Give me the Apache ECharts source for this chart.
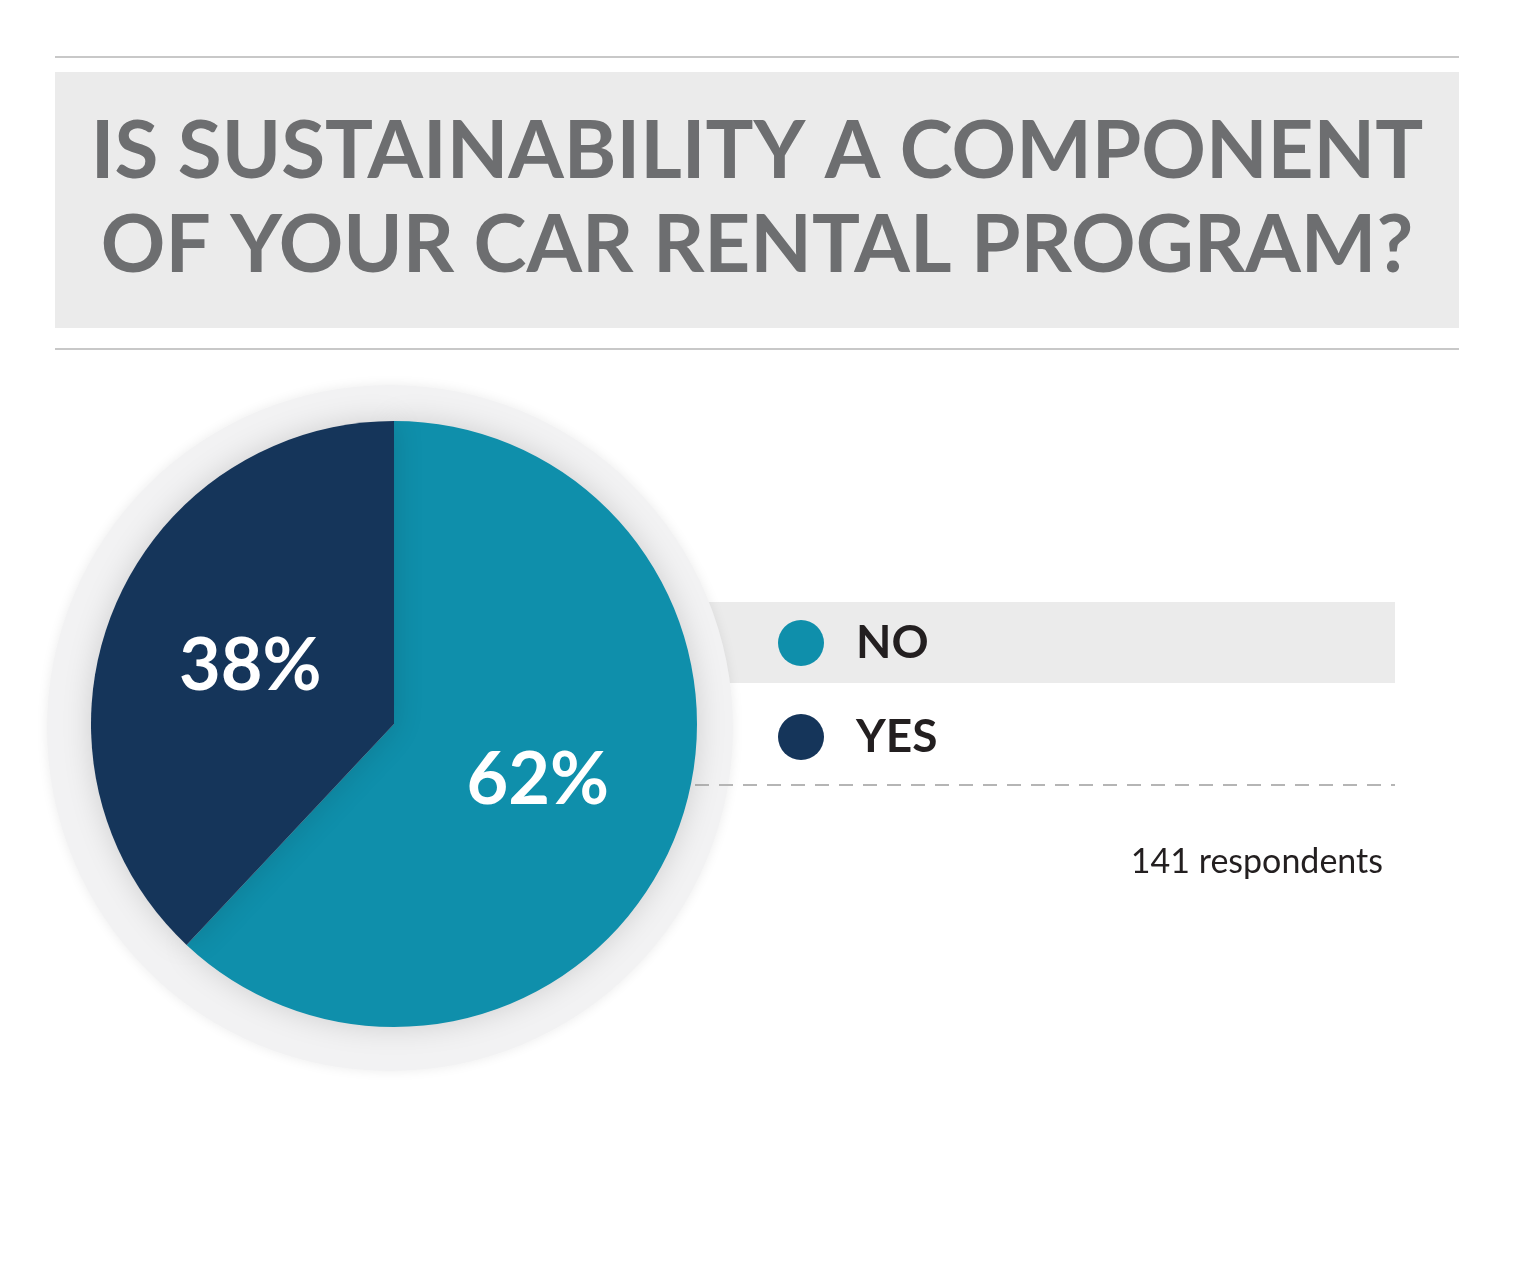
<!DOCTYPE html>
<html>
<head>
<meta charset="utf-8">
<script src="https://cdn.jsdelivr.net/npm/echarts@6/dist/echarts.min.js"></script>
<style>html,body{margin:0;padding:0;background:#fff}</style>
</head>
<body>
<div id="chart" style="width:1521px;height:1275px"></div>
<script>
// 数据
var categories = ['NO', 'YES'];
var values = [62, 38];
var colors = ['#0f8fab', '#15355a'];
var titleLines = ['IS SUSTAINABILITY A COMPONENT', 'OF YOUR CAR RENTAL PROGRAM?'];
var note = '141 respondents';

var chart = echarts.init(document.getElementById('chart'));
var font = 'Lato, "Open Sans", sans-serif';

var legendItems = [];
categories.forEach(function (c, i) {
    legendItems.push({
        type: 'circle', shape: { cx: 801, cy: 643 + i * 94, r: 23 },
        style: { fill: colors[i] }
    });
    legendItems.push({
        type: 'text', x: 856, y: 643 + i * 94,
        style: { text: c, fill: '#231f20', font: 'bold 46px ' + font, textVerticalAlign: 'middle' }
    });
});

chart.setOption({
    graphic: [
        { type: 'line', shape: { x1: 55, y1: 57, x2: 1459, y2: 57 }, style: { stroke: '#c8c8c8', lineWidth: 2 } },
        { type: 'rect', shape: { x: 55, y: 72, width: 1404, height: 256 }, style: { fill: '#ebebeb' } },
        { type: 'line', shape: { x1: 55, y1: 349, x2: 1459, y2: 349 }, style: { stroke: '#c8c8c8', lineWidth: 2 } },
        { type: 'text', x: 757, y: 152, style: { text: titleLines[0], fill: '#6d6e70', font: 'bold 80px ' + font, textAlign: 'center', textVerticalAlign: 'middle' } },
        { type: 'text', x: 757, y: 246, style: { text: titleLines[1], fill: '#6d6e70', font: 'bold 80px ' + font, textAlign: 'center', textVerticalAlign: 'middle' } },
        { type: 'rect', z: -1, shape: { x: 700, y: 602, width: 695, height: 81 }, style: { fill: '#ebebeb' } },
        { type: 'circle', z: -1, shape: { cx: 390, cy: 728, r: 343 },
          style: { fill: '#f2f2f3', shadowBlur: 12, shadowColor: 'rgba(0,0,0,0.08)' } },
        { type: 'line', shape: { x1: 695, y1: 785, x2: 1395, y2: 785 }, style: { stroke: '#b5b5b5', lineWidth: 2, lineDash: [14, 10] } },
        { type: 'text', x: 1383, y: 862, style: { text: note, fill: '#231f20', font: '34px ' + font, textAlign: 'right', textVerticalAlign: 'middle' } }
    ].concat(legendItems),
    series: [{
        type: 'pie',
        center: [394, 724],
        radius: [0, 303],
        startAngle: 90,
        clockwise: true,
        silent: true,
        itemStyle: { shadowBlur: 30, shadowColor: 'rgba(0,0,0,0.15)' },
        label: {
            position: 'inside',
            formatter: '{c}%',
            color: '#fff',
            fontSize: 72,
            fontWeight: 'bold',
            fontFamily: font
        },
        labelLine: { show: false },
        data: categories.map(function (c, i) {
            return { name: c, value: values[i], itemStyle: { color: colors[i] } };
        })
    }]
});
</script>
</body>
</html>
